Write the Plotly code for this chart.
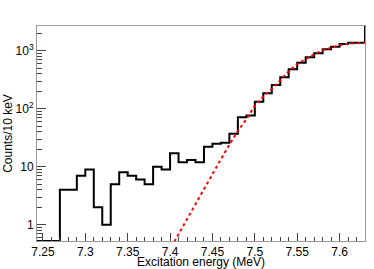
import plotly.graph_objects as go

# Histogram: lower bin edges (MeV), 10 keV bins, counts per bin
bin_low = [7.24, 7.25, 7.26, 7.27, 7.28, 7.29, 7.30, 7.31, 7.32, 7.33, 7.34, 7.35,
           7.36, 7.37, 7.38, 7.39, 7.40, 7.41, 7.42, 7.43, 7.44, 7.45, 7.46, 7.47,
           7.48, 7.49, 7.50, 7.51, 7.52, 7.53, 7.54, 7.55, 7.56, 7.57, 7.58, 7.59,
           7.60, 7.61, 7.62, 7.63]
counts = [0, 0, 0, 4, 4, 7, 9, 2, 1, 5, 8, 7,
          6, 5, 10, 9, 17, 12, 13, 12, 22, 25, 26, 37,
          71, 76, 132, 185, 257, 348, 477, 622, 770, 901, 1057, 1172,
          1304, 1374, 1374, 3000]
bin_width = 0.01

# Fit curve (red dotted)
fit_x = [7.405, 7.41, 7.42, 7.43, 7.44, 7.45, 7.46, 7.47, 7.48, 7.49, 7.50, 7.51,
         7.52, 7.53, 7.54, 7.55, 7.56, 7.57, 7.58, 7.59, 7.60, 7.61, 7.62, 7.63]
fit_y = [0.51, 0.69, 1.26, 2.3, 4.2, 7.6, 13.5, 24, 41, 66, 112, 162,
         219, 309, 442, 589, 724, 871, 1012, 1135, 1245, 1318, 1355, 1374]

x_range = [7.243, 7.63]
y_log_range = [-0.28, 3.425]
y_tickvals = [1, 10, 100, 1000]
y_ticktext = ["1", "10", "10<sup>2</sup>", "10<sup>3</sup>"]
y_minor = [m * 10 ** d for d in range(-1, 4) for m in range(2, 10)]

floor = 10 ** y_log_range[0]
hx = bin_low + [bin_low[-1] + bin_width]
hy = [c if c > 0 else floor for c in counts]
hy = hy + [hy[-1]]

fig = go.Figure()
fig.add_trace(go.Scatter(x=hx, y=hy, mode="lines", line=dict(shape="hv", color="black", width=2),
                         showlegend=False, hoverinfo="skip"))
fig.add_trace(go.Scatter(x=fit_x, y=fit_y, mode="lines", line=dict(color="#ff0000", width=2, dash="dot"),
                         showlegend=False, hoverinfo="skip"))

fnt = dict(family="Liberation Sans, Arial, sans-serif", size=12, color="black")
fig.update_layout(
    width=374, height=269,
    margin=dict(l=37, r=9, t=26, b=28, autoexpand=False),
    paper_bgcolor="white", plot_bgcolor="white",
    font=fnt,
    xaxis=dict(range=x_range, showgrid=False, zeroline=False, automargin=False,
               showline=True, linecolor="#999999", linewidth=1, mirror=True,
               ticks="inside", ticklen=8, tickcolor="#444444", tickwidth=1,
               tick0=7.25, dtick=0.05, tickformat=".2~f",
               minor=dict(ticks="inside", ticklen=4, dtick=0.01, tick0=7.25, tickcolor="#444444"),
               title=dict(text="Excitation energy (MeV)", font=fnt, standoff=0),
               tickfont=fnt),
    yaxis=dict(type="log", range=y_log_range, showgrid=False, zeroline=False, automargin=False,
               showline=True, linecolor="#999999", linewidth=1, mirror=True,
               ticks="inside", ticklen=9, tickcolor="#444444", tickwidth=1,
               tickmode="array", tickvals=y_tickvals, ticktext=y_ticktext,
               minor=dict(ticks="inside", ticklen=5, tickmode="array", tickvals=y_minor,
                          tickcolor="#444444"),
               title=dict(text="Counts/10 keV", font=fnt, standoff=0),
               tickfont=fnt),
)

fig.write_html("out.html",
               config={"displayModeBar": False, "staticPlot": True},
               post_script="document.body.style.margin='0';document.body.style.overflow='hidden';")
